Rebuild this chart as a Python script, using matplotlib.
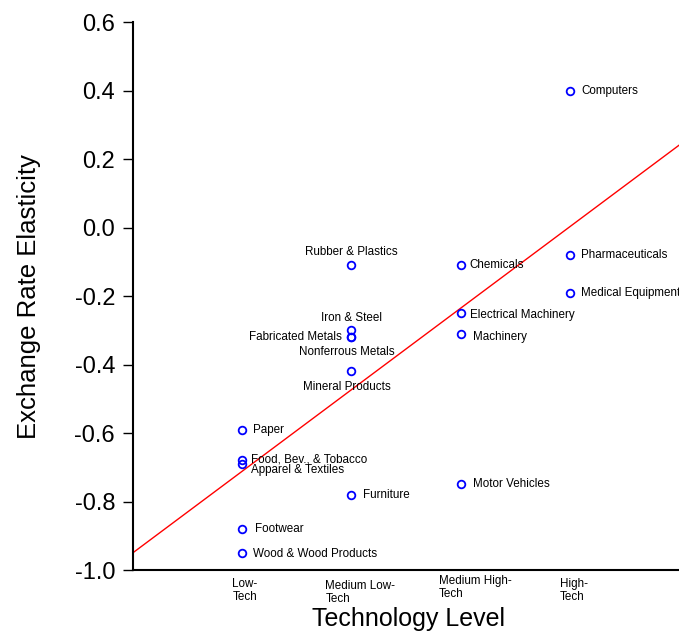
import numpy as np
import matplotlib
matplotlib.use("Agg")
import matplotlib.pyplot as plt
from matplotlib.transforms import blended_transform_factory, ScaledTranslation

plt.rcParams['font.family'] = ['Liberation Sans', 'DejaVu Sans']

# Technology level (1 = Low-Tech ... 4 = High-Tech) and estimated elasticity per industry
industries = [
    "Paper", "Food, Bev., & Tobacco", "Apparel & Textiles", "Footwear", "Wood & Wood Products",
    "Rubber & Plastics", "Iron & Steel", "Fabricated Metals", "Nonferrous Metals",
    "Mineral Products", "Furniture",
    "Chemicals", "Electrical Machinery", "Machinery", "Motor Vehicles",
    "Computers", "Pharmaceuticals", "Medical Equipment",
]
tech_level = [1, 1, 1, 1, 1,
              2, 2, 2, 2, 2, 2,
              3, 3, 3, 3,
              4, 4, 4]
elasticity = [-0.59, -0.68, -0.69, -0.88, -0.95,
              -0.11, -0.30, -0.32, -0.32, -0.42, -0.78,
              -0.11, -0.25, -0.31, -0.75,
              0.40, -0.08, -0.19]

tick_positions = [1, 2, 3, 4]
tick_labels = ["Low-\nTech", "Medium Low-\nTech", "Medium High-\nTech", "High-\nTech"]
y_ticks = [0.6, 0.4, 0.2, 0.0, -0.2, -0.4, -0.6, -0.8, -1.0]

# Label placement: (dx, dy) in points and horizontal alignment
placement = {
    "Paper": (8, 0, "left"),
    "Food, Bev., & Tobacco": (6, 1, "left"),
    "Apparel & Textiles": (6, -4.5, "left"),
    "Footwear": (9, 0, "left"),
    "Wood & Wood Products": (8, -1, "left"),
    "Rubber & Plastics": (0, 9.5, "center"),
    "Iron & Steel": (0, 9, "center"),
    "Fabricated Metals": (-7, 0, "right"),
    "Nonferrous Metals": (-3, -11, "center"),
    "Mineral Products": (-3, -11.5, "center"),
    "Furniture": (8, 0, "left"),
    "Chemicals": (6, 0, "left"),
    "Electrical Machinery": (7, -1, "left"),
    "Machinery": (9, -2, "left"),
    "Motor Vehicles": (9, 0, "left"),
    "Computers": (8, 0, "left"),
    "Pharmaceuticals": (8, 0, "left"),
    "Medical Equipment": (8, 0, "left"),
}

# Offsets (pixels) of each category label's top-left corner from its tick at the axis line
tick_label_offset = [(-10, -8), (-26, -10), (-22, -5), (-10, -8)]

fig = plt.figure(figsize=(6.79, 6.32), dpi=100)
ax = fig.add_axes([0.196, 0.098, 0.804, 0.867])

x = np.array(tech_level, dtype=float)
y = np.array(elasticity)

# Least-squares fit line across the full axis width
slope, intercept = np.polyfit(x, y, 1)
xl = np.array([0.0, 5.0])
ax.plot(xl, intercept + slope * xl, color="red", linewidth=1.0, zorder=2)

ax.plot(x, y, linestyle="none", marker="o", markersize=5.5,
        markerfacecolor="none", markeredgecolor="blue", markeredgewidth=1.3, zorder=3)

for name, xi, yi in zip(industries, x, y):
    dx, dy, ha = placement[name]
    ax.annotate(name, (xi, yi), xytext=(dx, dy), textcoords="offset points",
                ha=ha, va="center", fontsize=8.4, color="black")

ax.set_xlim(0, 5)
ax.set_ylim(-1.0, 0.6)
ax.set_yticks(y_ticks)
ax.set_yticklabels([f"{v:.1f}" for v in y_ticks])
ax.set_xticks(tick_positions)
ax.set_xticklabels([])

# Category labels, left-aligned two-line blocks under each tick
base = blended_transform_factory(ax.transData, ax.transAxes)
for pos, text, (ox, oy) in zip(tick_positions, tick_labels, tick_label_offset):
    tr = base + ScaledTranslation(ox / 100, oy / 100, fig.dpi_scale_trans)
    ax.text(pos, 0, text, transform=tr, ha="left", va="top", fontsize=8.4,
            multialignment="left", linespacing=1.15, clip_on=False)

ax.tick_params(axis="y", direction="out", length=7, width=1, labelsize=17, pad=6)
ax.tick_params(axis="x", length=0, pad=8)

for side in ("top", "right"):
    ax.spines[side].set_visible(False)
for side in ("left", "bottom"):
    ax.spines[side].set_linewidth(1.5)

ax.set_xlabel("Technology Level", fontsize=18)
ax.xaxis.set_label_coords(0.505, -0.068)
ax.set_ylabel("Exchange Rate Elasticity", fontsize=18.5, labelpad=24)

fig.savefig("out.png", dpi=100)
